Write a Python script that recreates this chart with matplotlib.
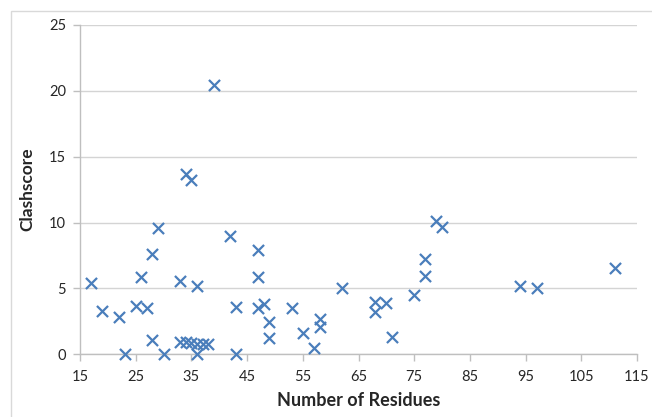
import matplotlib
matplotlib.use("Agg")
import matplotlib.pyplot as plt
from matplotlib.patches import Rectangle

# Clashscore against chain length
residues = [17, 19, 22, 23, 25, 26, 27, 28, 28, 29, 30, 33, 33, 34, 35, 34,
            36, 36, 35, 36, 37, 38, 39, 42, 43, 43, 47, 47, 47, 48, 49, 49,
            53, 55, 57, 58, 58, 62, 68, 68, 70, 71, 75, 77, 77, 79, 80, 94,
            97, 111]
clashscore = [5.4, 3.25, 2.8, 0.0, 3.7, 5.9, 3.5, 7.65, 1.1, 9.6, 0.0, 5.55,
              0.95, 13.7, 13.25, 0.9, 5.2, 0.0, 0.85, 0.8, 0.8, 0.8, 20.45,
              8.95, 3.6, 0.0, 7.9, 5.9, 3.5, 3.85, 2.45, 1.2, 3.5, 1.65, 0.5,
              2.65, 2.1, 5.05, 4.0, 3.2, 3.9, 1.3, 4.5, 5.95, 7.25, 10.15,
              9.65, 5.2, 5.05, 6.55]

x_ticks = [15, 25, 35, 45, 55, 65, 75, 85, 95, 105, 115]
y_ticks = [0, 5, 10, 15, 20, 25]

plt.rcParams["font.family"] = ["Lato", "DejaVu Sans"]

W, H = 652, 417
fig = plt.figure(figsize=(W / 100, H / 100), dpi=100)
ax = fig.add_axes([80 / W, 1 - 354.3 / H, (637 - 80) / W, (354.3 - 25) / H])

grid_c = "#d4d4d4"
axis_c = "#bfbfbf"
text_c = "#262626"

ax.scatter(residues, clashscore, marker="x", s=64, linewidths=1.6,
           color="#4a7ebb", zorder=3, clip_on=False)

ax.set_xlim(15, 115)
ax.set_ylim(0, 25)
ax.set_xticks(x_ticks)
ax.set_yticks(y_ticks)
ax.yaxis.grid(True, color=grid_c, linewidth=1.0)
ax.set_axisbelow(True)

for side in ("top", "right"):
    ax.spines[side].set_visible(False)
for side in ("left", "bottom"):
    ax.spines[side].set_color(axis_c)
    ax.spines[side].set_linewidth(1.0)

ax.tick_params(axis="both", direction="out", length=5, width=1.0,
               color=axis_c, labelsize=10.5, labelcolor=text_c)
ax.tick_params(axis="x", pad=6)
ax.tick_params(axis="y", pad=5)

ax.set_xlabel("Number of Residues", fontsize=13, fontweight="bold",
              color=text_c, labelpad=6)
ax.set_ylabel("Clashscore", fontsize=12.5, fontweight="bold",
              color=text_c, labelpad=10)

# Chart-area border
fig.patches.append(Rectangle((11 / W, -0.05), 1.2, 1 - 11 / H + 0.05,
                             transform=fig.transFigure, fill=False,
                             edgecolor="#d9d9d9", linewidth=1.0))

fig.savefig("out.png", dpi=100)
